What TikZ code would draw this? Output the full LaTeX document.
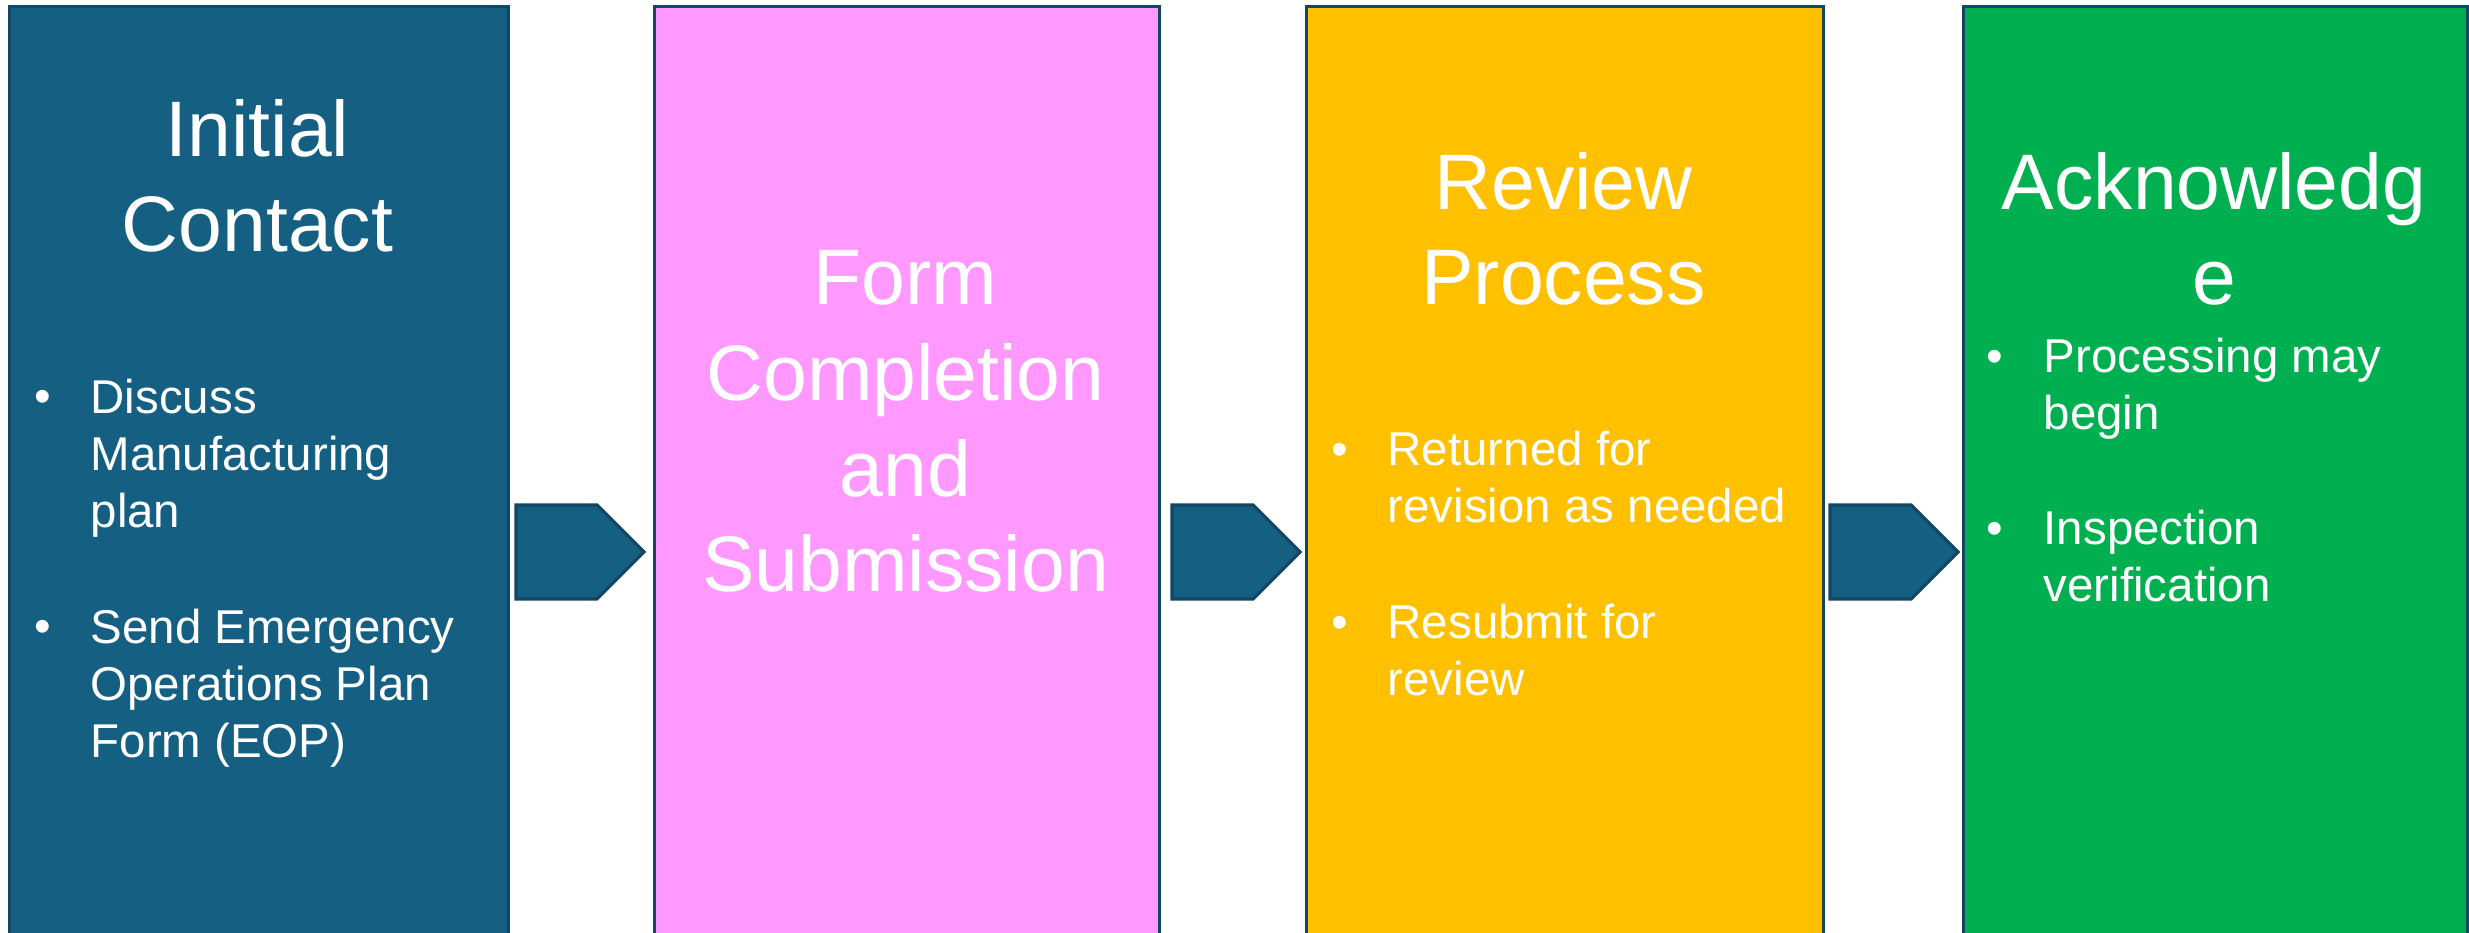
\documentclass[tikz,border=0pt]{standalone}
\usepackage{fontspec}
\setmainfont{Liberation Sans}
\usetikzlibrary{positioning}

\definecolor{stageblue}{HTML}{156082}
\definecolor{stagepink}{HTML}{FF99FF}
\definecolor{stagegold}{HTML}{FFC000}
\definecolor{stagegreen}{HTML}{00B050}
\definecolor{stageedge}{HTML}{124662}

\tikzset{
  stage/.style={draw=stageedge, line width=0.9pt, rectangle, inner sep=0pt,
    anchor=north west, minimum height=9.29cm},
  heading/.style={text=white, align=center, anchor=base, inner sep=0pt,
    font=\fontsize{22.4pt}{27.3pt}\selectfont},
  item/.style={text=white, align=left, anchor=base west, inner sep=0pt,
    font=\fontsize{13.5pt}{16.35pt}\selectfont},
  dot/.style={text=white, anchor=base, inner sep=0pt,
    font=\fontsize{13.5pt}{16.35pt}\selectfont},
  chevron/.style={draw=stageedge, fill=stageblue, line width=0.9pt}
}

\begin{document}
\begin{tikzpicture}
    \useasboundingbox (0,0) rectangle (24.69,9.33);
    \clip (0,0) rectangle (24.69,9.33);

    \node[stage, fill=stageblue, minimum width=4.99cm] (contact) at (0.08,9.28) {};
    \node[stage, fill=stagepink, minimum width=5.05cm] (form) at (6.53,9.28) {};
    \node[stage, fill=stagegold, minimum width=5.17cm] (review) at (13.05,9.28) {};
    \node[stage, fill=stagegreen, minimum width=5.04cm] (ack) at (19.62,9.28) {};

    \foreach \x in {5.16, 11.72, 18.30}
        \draw[chevron] (\x, 4.28) -- ++(0.81, 0) -- ++(0.47, -0.47) -- ++(-0.47, -0.47) -- ++(-0.81, 0) -- cycle;

    % multi-line nodes sit on the baseline of their last line
    \node[heading] (contact-title) at (2.575, 6.81) {Initial\\Contact};
    \node[heading] (form-title) at (9.055, 3.41) {Form\\Completion\\and\\Submission};
    \node[heading] (review-title) at (15.635, 6.28) {Review\\Process};
    \node[heading] (ack-title) at (22.14, 6.28) {Acknowledg\\e};

    \node[dot] (contact-dot1) at (0.43, 5.20) {•};
    \node[item] (contact-item1) at (0.90, 4.05) {Discuss\\Manufacturing\\plan};
    \node[dot] (contact-dot2) at (0.43, 2.90) {•};
    \node[item] (contact-item2) at (0.90, 1.75) {Send Emergency\\Operations Plan\\Form (EOP)};

    \node[dot] (review-dot1) at (13.40, 4.67) {•};
    \node[item] (review-item1) at (13.87, 4.10) {Returned for\\revision as needed};
    \node[dot] (review-dot2) at (13.40, 2.94) {•};
    \node[item] (review-item2) at (13.87, 2.37) {Resubmit for\\review};

    \node[dot] (ack-dot1) at (19.95, 5.60) {•};
    \node[item] (ack-item1) at (20.43, 5.03) {Processing may\\begin};
    \node[dot] (ack-dot2) at (19.95, 3.88) {•};
    \node[item] (ack-item2) at (20.43, 3.31) {Inspection\\verification};
\end{tikzpicture}
\end{document}
